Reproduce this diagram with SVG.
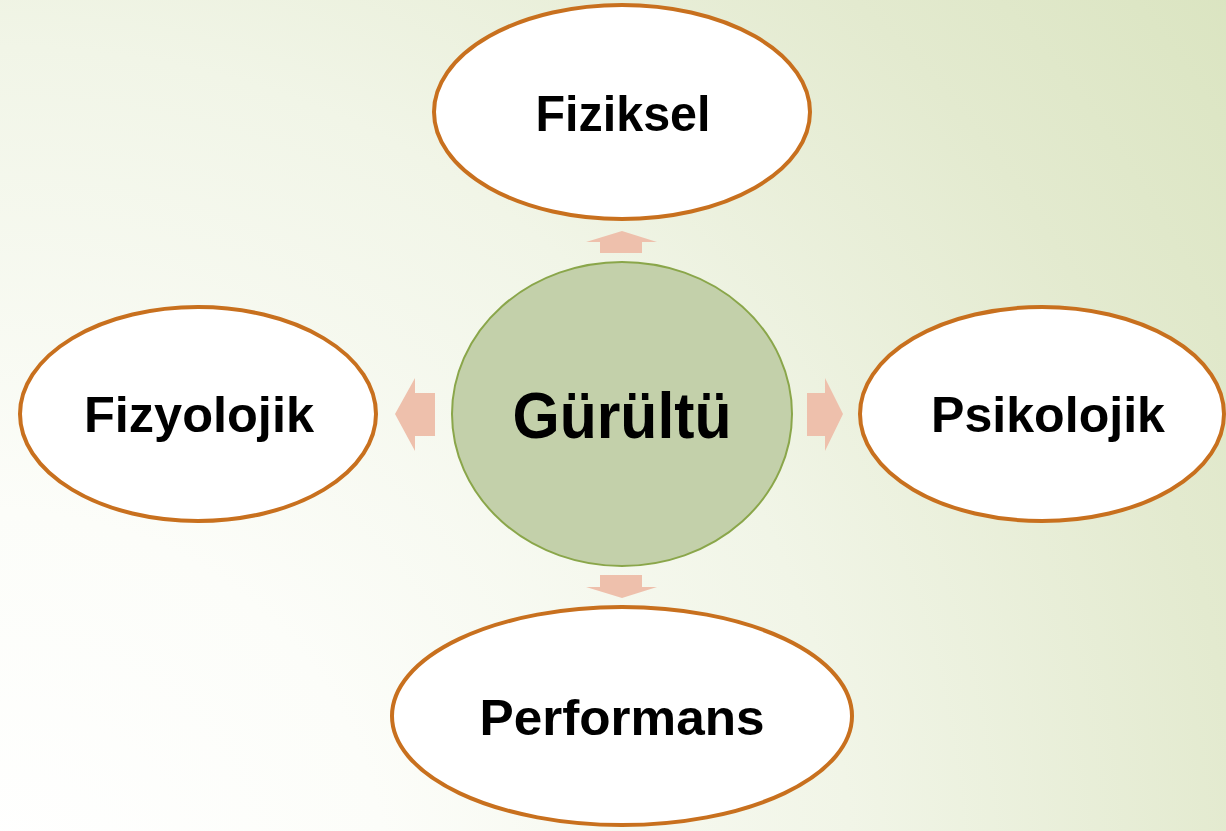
<svg xmlns="http://www.w3.org/2000/svg" width="1226" height="831" viewBox="0 0 1226 831">
  <defs>
    <radialGradient id="bg" gradientUnits="userSpaceOnUse" cx="0" cy="900" r="1550">
      <stop offset="0" stop-color="#FFFFFF"/>
      <stop offset="0.25" stop-color="#FCFDF9"/>
      <stop offset="0.55" stop-color="#F1F5E7"/>
      <stop offset="0.8" stop-color="#E3EACF"/>
      <stop offset="1" stop-color="#DAE4C0"/>
    </radialGradient>
    <style>
      .leaf { fill: #FFFFFF; stroke: #C8701E; stroke-width: 4; }
      .hub { fill: #C3D0AA; stroke: #8AA64A; stroke-width: 2; }
      .arrow { fill: #EEC0AC; }
      .lbl { font-family: "Liberation Sans", Arial, sans-serif; font-weight: bold; font-size: 50px; fill: #000000; text-anchor: middle; }
      .hubl { font-size: 64px; }
    </style>
  </defs>

  <rect width="1226" height="831" fill="url(#bg)"/>

  <!-- connectors: block arrows radiating from the hub -->
  <g id="connectors">
    <polygon class="arrow" points="600,253 600,242 586,242 622,231 657,242 642,242 642,253"/>
    <polygon class="arrow" points="435,393 415,393 415,378 395,414 415,451 415,436 435,436"/>
    <polygon class="arrow" points="807,393 825,393 825,378 843,414 825,451 825,436 807,436"/>
    <polygon class="arrow" points="600,575 642,575 642,587 657,587 622,598 586,587 600,587"/>
  </g>

  <g id="node-gurultu">
    <ellipse class="hub" cx="622" cy="414" rx="170" ry="152"/>
    <text class="lbl hubl" x="622" y="438" textLength="219" lengthAdjust="spacingAndGlyphs">Gürültü</text>
  </g>

  <g id="node-fiziksel">
    <ellipse class="leaf" cx="622" cy="112" rx="188" ry="107"/>
    <text class="lbl" x="623" y="131" textLength="175" lengthAdjust="spacingAndGlyphs">Fiziksel</text>
  </g>

  <g id="node-fizyolojik">
    <ellipse class="leaf" cx="198" cy="414" rx="178" ry="107"/>
    <text class="lbl" x="199" y="432" textLength="230" lengthAdjust="spacingAndGlyphs">Fizyolojik</text>
  </g>

  <g id="node-psikolojik">
    <ellipse class="leaf" cx="1042" cy="414" rx="182" ry="107"/>
    <text class="lbl" x="1048" y="432" textLength="234" lengthAdjust="spacingAndGlyphs">Psikolojik</text>
  </g>

  <g id="node-performans">
    <ellipse class="leaf" cx="622" cy="716" rx="230" ry="109"/>
    <text class="lbl" x="622" y="735" textLength="285" lengthAdjust="spacingAndGlyphs">Performans</text>
  </g>
</svg>
